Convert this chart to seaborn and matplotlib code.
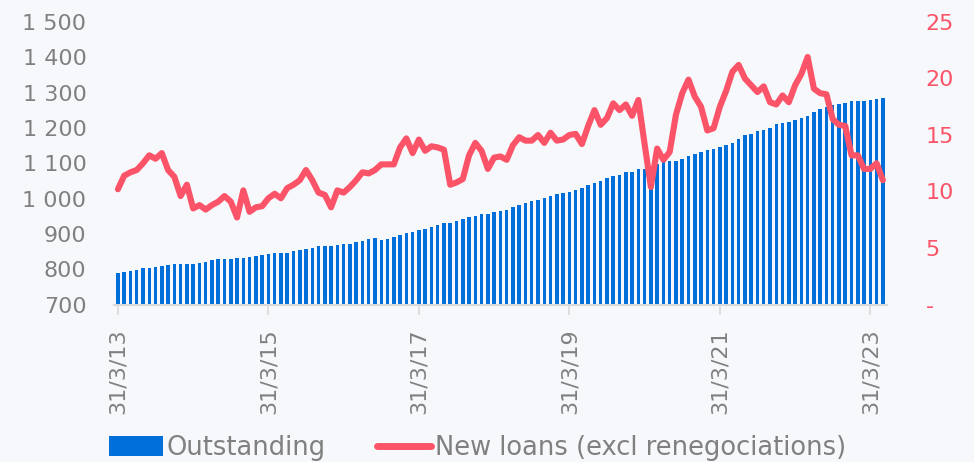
import pandas as pd
import matplotlib.pyplot as plt
from matplotlib.patches import Patch
from matplotlib.lines import Line2D
import seaborn as sns

# Monthly data, 31/3/2013 .. 31/5/2023

outstanding = [
    790, 792, 795, 797, 802, 804, 807, 809, 811, 814,
    814, 815, 816, 818, 821, 826, 828, 828, 829, 831,
    832, 835, 837, 840, 843, 845, 845, 846, 851, 854,
    856, 859, 865, 866, 866, 868, 870, 872, 876, 880,
    885, 887, 882, 886, 890, 896, 903, 906, 911, 914,
    920, 926, 932, 932, 937, 943, 947, 952, 957, 957,
    961, 964, 968, 976, 983, 987, 992, 996, 1002, 1008,
    1012, 1015, 1019, 1024, 1030, 1037, 1045, 1050, 1058, 1063,
    1068, 1075, 1074, 1085, 1085, 1090, 1098, 1103, 1105, 1106,
    1113, 1121, 1125, 1132, 1138, 1140, 1146, 1151, 1158, 1168,
    1179, 1182, 1190, 1195, 1200, 1210, 1214, 1217, 1222, 1228,
    1235, 1245, 1254, 1259, 1264, 1269, 1272, 1275, 1275, 1277,
    1280, 1281, 1286,
]

new_loans = [
    10.2, 11.4, 11.7, 11.9, 12.5, 13.2, 12.9, 13.4, 11.9, 11.3,
    9.6, 10.6, 8.5, 8.8, 8.4, 8.8, 9.1, 9.6, 9.1, 7.7,
    10.1, 8.2, 8.6, 8.7, 9.4, 9.8, 9.4, 10.3, 10.6, 11.0,
    11.9, 11.0, 9.9, 9.7, 8.6, 10.1, 9.9, 10.4, 11.0, 11.7,
    11.6, 11.9, 12.4, 12.4, 12.4, 13.9, 14.7, 13.4, 14.6, 13.6,
    14.0, 13.9, 13.7, 10.6, 10.8, 11.1, 13.2, 14.3, 13.6, 12.0,
    13.0, 13.1, 12.8, 14.1, 14.8, 14.5, 14.5, 15.0, 14.3, 15.2,
    14.5, 14.6, 15.0, 15.1, 14.2, 15.8, 17.2, 15.9, 16.5, 17.8,
    17.2, 17.7, 16.7, 18.1, 14.2, 10.4, 13.8, 12.8, 13.5, 16.8,
    18.7, 19.9, 18.4, 17.5, 15.4, 15.6, 17.5, 18.9, 20.6, 21.2,
    20.0, 19.4, 18.8, 19.3, 17.9, 17.7, 18.5, 17.9, 19.4, 20.4,
    21.9, 19.1, 18.7, 18.6, 16.4, 15.9, 15.8, 13.2, 13.2, 12.0,
    12.0, 12.5, 11.0,
]

tick_pos = [0, 24, 48, 72, 96, 120]
tick_labels = ['31/3/13', '31/3/15', '31/3/17', '31/3/19', '31/3/21', '31/3/23']
left_ticks = [700, 800, 900, 1000, 1100, 1200, 1300, 1400, 1500]
right_ticks = [0, 5, 10, 15, 20, 25]

df = pd.DataFrame({
    'month': range(len(outstanding)),
    'outstanding': outstanding,
    'new_loans': new_loans,
})

blue = '#006FD9'
red = '#FB5468'
grey = '#808080'
bg = '#F7F8FB'

sns.set_style('white')
plt.rcParams['font.family'] = ['DejaVu Sans']

fig = plt.figure(figsize=(9.74, 4.62), dpi=100, facecolor=bg)
ax = fig.add_axes([0.1172, 0.3409, 0.7931, 0.6115])
ax.set_facecolor('none')

sns.barplot(data=df, x='month', y='outstanding', ax=ax, color=blue,
            saturation=1, width=0.56, linewidth=0)
ax.set_ylim(700, 1500)
ax.set_xlim(-0.6, len(outstanding) - 0.4)
ax.set_yticks(left_ticks)
ax.set_yticklabels([f'{v:,}'.replace(',', ' ') for v in left_ticks])
ax.set_xticks(tick_pos)
ax.set_xticklabels(tick_labels, rotation=90)
ax.set_xlabel('')
ax.set_ylabel('')
ax.tick_params(axis='y', length=0, pad=20, labelsize=16, labelcolor=grey)
ax.tick_params(axis='x', length=7, width=1.2, color='#D9D9D9', pad=10,
               labelsize=16, labelcolor=grey, direction='out', bottom=True)
for s in ['top', 'right', 'left']:
    ax.spines[s].set_visible(False)
ax.spines['bottom'].set_color('#D9D9D9')
ax.spines['bottom'].set_linewidth(1.5)

ax2 = ax.twinx()
sns.lineplot(data=df, x='month', y='new_loans', ax=ax2, color=red,
             linewidth=4.4)
ax2.set_ylim(0, 25)
ax2.set_yticks(right_ticks)
ax2.set_yticklabels(['-' if v == 0 else str(v) for v in right_ticks])
ax2.set_ylabel('')
ax2.tick_params(axis='y', length=0, pad=28, labelsize=16, labelcolor=red)
for s in ['top', 'right', 'left', 'bottom']:
    ax2.spines[s].set_visible(False)

handles = [Patch(facecolor=blue, edgecolor='none'),
           Line2D([0], [0], color=red, linewidth=5)]
fig.legend(handles, ['Outstanding', 'New loans (excl renegociations)'],
           loc='center', bbox_to_anchor=(0.49, 0.03), ncol=2, frameon=False,
           fontsize=18.5, labelcolor=grey, handlelength=2.1, handleheight=0.8,
           handletextpad=0.15, columnspacing=2.0)

plt.savefig('out.png', dpi=100, facecolor=bg)
